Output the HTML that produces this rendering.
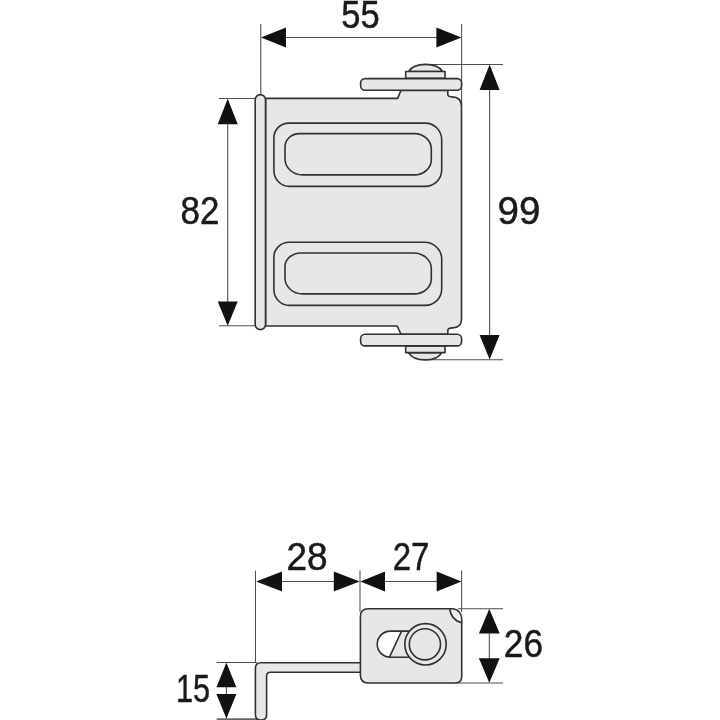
<!DOCTYPE html>
<html>
<head>
<meta charset="utf-8">
<title>Dimensions</title>
<style>
html,body{margin:0;padding:0;background:#fff;}
body{width:720px;height:720px;overflow:hidden;}
svg{display:block;}
.o{fill:#e6e7e9;stroke:#303133;stroke-width:1.6;stroke-linejoin:round;stroke-linecap:round;}
.n{fill:none;stroke:#303133;stroke-width:1.6;stroke-linejoin:round;stroke-linecap:round;}
.t{fill:none;stroke:#4d4d4d;stroke-width:1.05;}
.a{fill:#111;stroke:none;}
text{font-family:"Liberation Sans",sans-serif;font-size:38.5px;fill:#1a1a1a;stroke:#1a1a1a;stroke-width:0.5;}
text{filter:grayscale(1);}
</style>
</head>
<body>
<svg width="720" height="720" viewBox="0 0 720 720">
<rect width="720" height="720" fill="#fff"/>

<!-- ===== TOP VIEW ===== -->
<!-- extension + dimension lines -->
<g class="t">
<line x1="260.8" y1="24" x2="260.8" y2="95"/>
<line x1="461.6" y1="24" x2="461.6" y2="106"/>
<line x1="262" y1="37.4" x2="460" y2="37.4"/>
<line x1="219" y1="98.5" x2="256" y2="98.5"/>
<line x1="219" y1="325.8" x2="256" y2="325.8"/>
<line x1="227.7" y1="100" x2="227.7" y2="324"/>
<line x1="425" y1="64.4" x2="503" y2="64.4"/>
<line x1="425" y1="359.8" x2="503" y2="359.8"/>
<line x1="489.6" y1="66" x2="489.6" y2="358"/>
</g>
<g class="a">
<polygon points="261,37.4 286,27.4 286,47.4"/>
<polygon points="461.4,37.4 436.4,27.4 436.4,47.4"/>
<polygon points="227.7,98.7 217.7,124.2 237.7,124.2"/>
<polygon points="227.7,325.8 217.7,301.5 237.7,301.5"/>
<polygon points="489.6,64.6 479.6,90 499.6,90"/>
<polygon points="489.6,359.6 479.6,335 499.6,335"/>
</g>

<!-- dome + washer top -->
<path class="o" d="M408.8,71.5 C414,62 437,62 442.4,71.5 Z"/>
<rect class="o" x="405.7" y="71.5" width="39.3" height="6.8"/>
<!-- dome + washer bottom -->
<path class="o" d="M408.4,352.6 C414,362.3 436.5,362.3 441.8,352.6 Z"/>
<rect class="o" x="405.7" y="346" width="39.3" height="6.6"/>

<!-- body -->
<path class="o" d="M265.6,98.4 H397.6 L401,90.4 H447.8 V94.6 Q447.8,96.8 452,96.9 Q461.5,97.2 461.5,105.8 V319.3 Q461.5,327.6 452.5,327.9 Q447.8,328.1 447.8,330.5 V334.4 H401 L397.2,326 H265.6 Z"/>
<!-- tabs -->
<rect class="o" x="360.6" y="78.6" width="101" height="11.6" rx="4.5" ry="4.5"/>
<rect class="o" x="360.6" y="334.3" width="101" height="11.6" rx="4.5" ry="4.5"/>
<!-- rod -->
<rect class="o" x="255.2" y="94.6" width="10.3" height="235" rx="5.15" ry="5.15"/>
<!-- slots -->
<path class="n" d="M288.9,123.1 H425.4 A16.3,16.9 0 0 1 441.7,140 V170 A16.7,16.4 0 0 1 425,186.4 H289.4 A15.5,15.9 0 0 1 273.9,170.5 V137.8 A15,14.7 0 0 1 288.9,123.1 Z"/>
<path class="n" d="M299.4,133.6 H414.5 A16.8,15.3 0 0 1 431.3,148.9 V160.1 A17.2,14.8 0 0 1 414.1,174.9 H302.6 A17.6,15.9 0 0 1 285,159 V146.8 A14.4,13.2 0 0 1 299.4,133.6 Z"/>
<path class="n" d="M289.2,242.3 H424.7 A17,16.9 0 0 1 441.7,259.2 V289 A16.7,16.4 0 0 1 425,305.4 H289.4 A15.5,15.9 0 0 1 273.9,289.5 V257.3 A15.3,15 0 0 1 289.2,242.3 Z"/>
<path class="n" d="M301,253 H413.7 A17.6,15.3 0 0 1 431.3,268.3 V279.1 A17.2,14.8 0 0 1 414.1,293.9 H302.6 A17.6,15.9 0 0 1 285,278 V266.6 A16,13.6 0 0 1 301,253 Z"/>

<text x="360.5" y="28" text-anchor="middle" textLength="38.4" lengthAdjust="spacingAndGlyphs">55</text>
<text x="200" y="224.4" text-anchor="middle" textLength="38.8" lengthAdjust="spacingAndGlyphs">82</text>
<text x="519" y="224.1" text-anchor="middle" textLength="42.8" lengthAdjust="spacingAndGlyphs">99</text>

<!-- ===== BOTTOM VIEW ===== -->
<g class="t">
<line x1="255.5" y1="570.5" x2="255.5" y2="662"/>
<line x1="360" y1="570.5" x2="360" y2="612"/>
<line x1="461.6" y1="570.5" x2="461.6" y2="612"/>
<line x1="257" y1="581.4" x2="359" y2="581.4"/>
<line x1="361" y1="581.4" x2="461" y2="581.4"/>
<line x1="458" y1="608.7" x2="503" y2="608.7"/>
<line x1="455" y1="683" x2="503" y2="683"/>
<line x1="489.3" y1="610" x2="489.3" y2="682"/>
<line x1="216.7" y1="662.5" x2="257" y2="662.5"/>
<line x1="226.4" y1="664" x2="226.4" y2="718"/>
</g>
<line x1="216.7" y1="719.2" x2="262" y2="719.2" stroke="#666" stroke-width="1.8"/>
<g class="a">
<polygon points="256.2,581.4 282,571.4 282,591.4"/>
<polygon points="359.6,581.4 333.8,571.4 333.8,591.4"/>
<polygon points="360.4,581.4 385,571.4 385,591.4"/>
<polygon points="461.4,581.4 436.7,571.4 436.7,591.4"/>
<polygon points="489.3,608.9 478.9,633.4 499.7,633.4"/>
<polygon points="489.3,682.8 478.9,658.3 499.7,658.3"/>
<polygon points="226.4,662.8 216.4,687.2 236.4,687.2"/>
<polygon points="226.4,718.6 216.4,694.1 236.4,694.1"/>
</g>

<!-- L arm -->
<path class="o" d="M361,662.7 H261 Q255.4,662.7 255.4,668.3 V714.4 Q255.4,720 261,720 Q266.6,720 266.6,714.4 V676 Q266.6,672.2 270.4,672.2 H361 Z"/>
<!-- block -->
<path class="o" d="M368.4,608.7 H449.8 Q451,620 461.7,622.8 V676.5 Q461.7,683 455.2,683 H368.4 Q360.4,683 360.4,675 V616.7 Q360.4,608.7 368.4,608.7 Z"/>
<path d="M449.8,608.7 H453 Q460.6,609.8 461.7,618 V622.8 Q451,620 449.8,608.7 Z" fill="#ecedef" stroke="#303133" stroke-width="1.5" stroke-linejoin="round"/>
<!-- slot -->
<path d="M408,631.1 H390.3 A13.05,13.05 0 0 0 390.3,657.2 H408 Z" fill="#fff" stroke="none"/>
<path d="M401.6,631.1 L389.5,657.2 H412 V631.1 Z" fill="#e6e7e9" stroke="none"/>
<path class="n" d="M409,631.1 H390.3 A13.05,13.05 0 0 0 390.3,657.2 H409 M401.6,631.1 L389.5,657.2"/>
<circle class="o" cx="425.5" cy="644.3" r="20.7"/>
<circle class="o" cx="424.9" cy="644.3" r="15.6"/>

<text x="307" y="570.4" text-anchor="middle" textLength="41.1" lengthAdjust="spacingAndGlyphs">28</text>
<text x="411" y="570.4" text-anchor="middle" textLength="36.7" lengthAdjust="spacingAndGlyphs">27</text>
<text x="523.4" y="657" text-anchor="middle" textLength="39.2" lengthAdjust="spacingAndGlyphs">26</text>
<text x="193" y="702.4" text-anchor="middle" textLength="34.2" lengthAdjust="spacingAndGlyphs">15</text>
</svg>
</body>
</html>
